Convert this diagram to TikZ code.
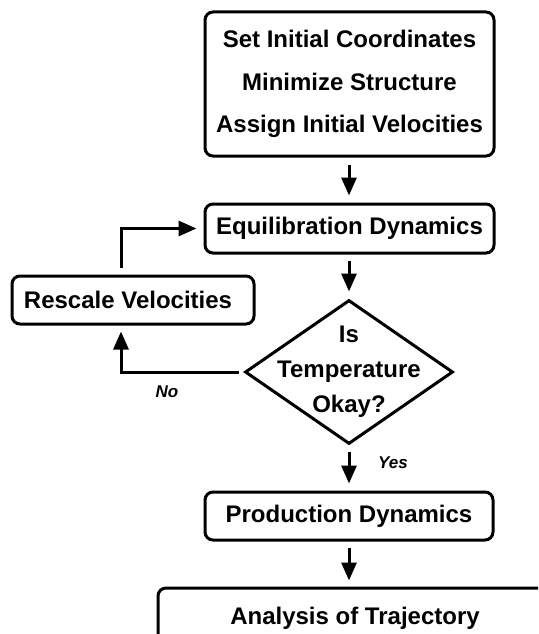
\documentclass[tikz,border=0pt]{standalone}
\usepackage{fontspec}
\setmainfont{Liberation Sans}
\usetikzlibrary{arrows.meta,shapes.geometric}
\tikzset{
  box/.style={draw, line width=3pt, rounded corners=8pt, inner sep=0pt, align=center,
    font=\fontsize{24}{42.5}\selectfont\bfseries},
  txt/.style={inner sep=0pt, align=center, font=\fontsize{24}{35}\selectfont\bfseries},
  lbl/.style={inner sep=0pt, font=\fontsize{17}{20}\selectfont\bfseries\itshape},
  arr/.style={line width=3pt, -{Triangle[length=18pt,width=15pt]}},
  dia/.style={draw, diamond, line width=3pt, inner sep=0pt, minimum width=208pt, minimum height=144pt}
}
\begin{document}
\begin{tikzpicture}[x=1pt,y=-1pt]
\useasboundingbox (0,0) rectangle (538,634);
\clip (0,0) rectangle (538,634);
\node[box, minimum width=289pt, minimum height=144pt] (init) at (349.5,84)
  {Set Initial Coordinates\\Minimize Structure\\Assign Initial Velocities};
\node[box, minimum width=289pt, minimum height=49pt] (equil) at (349.5,228.5) {Equilibration Dynamics};
\node[box, minimum width=242pt, minimum height=48pt] (rescale) at (133,300) {Rescale Velocities\hspace*{10pt}};
\node[dia] (dec) at (349,372) {};
\node[txt] (dectext) at (dec.center) {Is\\Temperature\\Okay?};
\node[box, minimum width=288pt, minimum height=48pt] (prod) at (349,516) {Production Dynamics};
\node[box, minimum width=394pt, minimum height=60pt] (anal) at (355,618) {Analysis of Trajectory};
\coordinate (loopx) at (121,300);
\draw[arr, shorten <=7pt, shorten >=7pt] (init.south -| dec.north) -- (equil.north -| dec.north);
\draw[arr, shorten <=6pt, shorten >=7pt] (equil.south -| dec.north) -- (dec.north);
\draw[arr, shorten <=6pt, shorten >=7pt] (dec.south) -- (prod.north -| dec.south);
\draw[arr, shorten <=6pt, shorten >=6pt] (prod.south -| dec.south) -- (anal.north -| dec.south);
\draw[arr, shorten <=5pt, shorten >=6pt] (dec.west) -| (rescale.south -| loopx);
\draw[arr, shorten <=7pt, shorten >=7pt] (rescale.north -| loopx) |- (equil.west);
\node[lbl] (yes) at (393,463) {Yes};
\node[lbl] (no) at (167,392) {No};
\end{tikzpicture}
\end{document}
